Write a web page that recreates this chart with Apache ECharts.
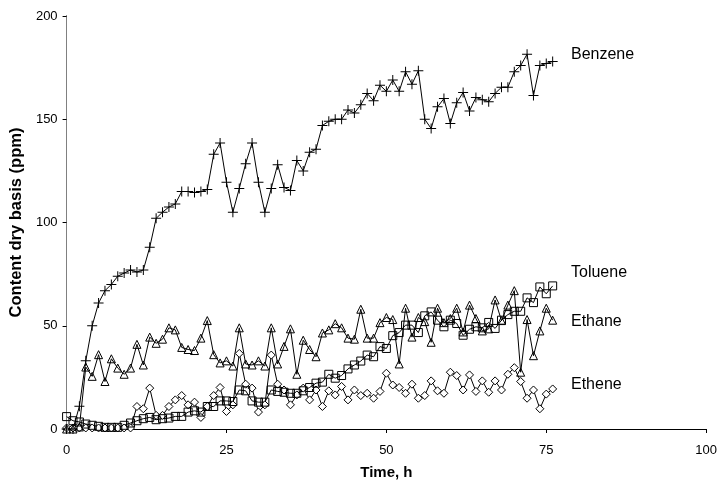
<!DOCTYPE html>
<html>
<head>
<meta charset="utf-8">
<script src="https://cdn.jsdelivr.net/npm/echarts@6/dist/echarts.min.js"></script>
<style>html,body{margin:0;padding:0;background:#fff}#c{width:720px;height:485px}</style>
</head>
<body>
<div id="c"></div>
<script>
var times = [0,1,2,3,4,5,6,7,8,9,10,11,12,13,14,15,16,17,18,19,20,21,22,23,24,25,26,27,28,29,30,31,32,33,34,35,36,37,38,39,40,41,42,43,44,45,46,47,48,49,50,51,52,53,54,55,56,57,58,59,60,61,62,63,64,65,66,67,68,69,70,71,72,73,74,75,76];
var benzene = [0,0,11,33,50,61,67,70,74,75.5,77,76,77,88,102,105,107.5,109,115,115,114.5,115,116,133,138.5,119.5,105,116.5,128.5,138.5,119.5,105,116.5,128,117,115.5,130,125,134,135.5,147,149,150,150,154.5,153,157,162.5,159,166.5,163.5,169,163.5,173,167,173.5,150,145.5,156,160,148,158,163,154,160.5,159.5,158.5,162.5,165.5,165.5,173,176,181.5,161.5,176,177,178];
var ethane = [0,0,1,30,25.5,36,23,34,29.5,26.5,29.5,41,31,44.5,41.5,43.5,49,48,39.5,38.5,38,44,52.5,36,32,33,30.5,49,31.5,31,33,30.5,49,31.5,40,48.5,26.5,43,38.5,35,46.5,48,51,49,44,43.5,58,44,44,51.5,54,53,31.5,58.5,44.5,54,52,42,58.5,51.5,53.5,58.5,47,60,53.5,47.5,48.5,62.5,52.5,60,67,27.5,53,35.5,47.5,58.5,52.7];
var toluene = [6,4,3.4,2.4,1.8,1.3,0.8,0.8,0.8,1.8,2.9,4,5,5.6,4.5,5,5.3,6.1,6.1,8.2,8.8,8.2,10.9,10.9,13.6,13.6,13.3,18.9,18.5,13.6,13,13,18.9,18.2,17.8,17.3,17.3,18.5,20.1,22.2,22.7,26.5,24.6,25.9,29.1,31,32.9,35.8,35,39.9,39,45.2,46.7,50.3,50.3,46.7,54.8,56.7,52.7,49.5,52.7,51.1,45.4,48.3,49.5,49,51.6,48.7,52.7,55.4,57,57,63.5,61.2,68.8,65.5,69.3];
var ethene = [0.5,0.5,0.5,0.5,0.5,0.5,0.5,0.5,0.5,0.5,0.5,10.9,9.8,19.8,6.6,6.6,10.9,14.1,16.2,11.7,13,5.6,10.9,16.2,20.1,8.5,11.7,36.6,21.7,19.8,8.2,11.7,35.8,21.7,18.9,11.7,16.5,19.8,14.1,18.9,10.9,18.5,16.5,20.6,14.1,18.9,16.2,17.3,14.9,18.2,27,21.3,20.1,17.3,21.7,14.9,16.2,23.3,18.5,17.3,27.5,25.9,18.9,26.2,18.2,23.3,17.8,23.3,18.9,26.5,29.7,23,14.9,18.9,9.8,16.9,19.4];
var seriesNames = ['Benzene','Toluene','Ethane','Ethene'];
var xTicks = [0,25,50,75,100];
var yTicks = [0,50,100,150,200];

function pairs(vals){ return times.map(function(t,i){ return [t, vals[i]]; }); }

var plusPath = 'path://M4.5,0H5.5V4.5H10V5.5H5.5V10H4.5V5.5H0V4.5H4.5Z';
var font = 'Liberation Sans, Arial, sans-serif';

var chart = echarts.init(document.getElementById('c'), null, {renderer:'canvas'});
function mk(name, vals, symbol, size, fill){
  return {
    name: name, type: 'line', data: pairs(vals), symbol: symbol, symbolSize: size,
    showAllSymbol: true, animation: false,
    lineStyle: {color:'#000', width:1},
    itemStyle: {color: fill, borderColor:'#000', borderWidth: symbol===plusPath?0:1},
    emphasis: {disabled:true}
  };
}
chart.setOption({
  animation: false,
  backgroundColor: '#fff',
  grid: {left:64, right:10, top:16, bottom:54, containLabel:false},
  xAxis: [{
    type:'value', min:0, max:100, interval:25,
    name:'Time, h', nameLocation:'middle', nameGap:36,
    nameTextStyle:{fontFamily:font, fontWeight:'bold', fontSize:15, color:'#000'},
    axisLine:{show:true, onZero:false, lineStyle:{color:'#000', width:1}},
    axisTick:{show:true, length:4, lineStyle:{color:'#000'}},
    axisLabel:{fontFamily:font, fontSize:13, color:'#000', margin:15,
      formatter:function(v){ return xTicks.indexOf(v)>=0 ? String(v) : ''; }},
    splitLine:{show:false}
  },{
    type:'value', min:0, max:100, position:'top',
    axisLine:{show:true, lineStyle:{color:'#000', width:1}},
    axisTick:{show:false}, axisLabel:{show:false}, splitLine:{show:false}
  }],
  yAxis: [{
    type:'value', min:0, max:200, interval:50,
    name:'Content dry basis (ppm)', nameLocation:'middle', nameGap:30,
    nameTextStyle:{fontFamily:font, fontWeight:'bold', fontSize:16.5, color:'#000'},
    axisLine:{show:true, onZero:false, lineStyle:{color:'#000', width:1}},
    axisTick:{show:true, length:4, lineStyle:{color:'#000'}},
    axisLabel:{fontFamily:font, fontSize:13, color:'#000', margin:9,
      formatter:function(v){ return yTicks.indexOf(v)>=0 ? String(v) : ''; }},
    splitLine:{show:false}
  },{
    type:'value', min:0, max:200, position:'right',
    axisLine:{show:true, lineStyle:{color:'#808080', width:1}},
    axisTick:{show:false}, axisLabel:{show:false}, splitLine:{show:false}
  }],
  series: [
    mk('Ethene', ethene, 'diamond', 8, '#fff'),
    mk('Toluene', toluene, 'rect', 8, 'rgba(255,255,255,0)'),
    mk('Ethane', ethane, 'triangle', 8, 'rgba(255,255,255,0)'),
    mk('Benzene', benzene, plusPath, 10, '#000')
  ],
  graphic: [
    {type:'text', left:571, top:47, style:{text:seriesNames[0], font:'16px '+font, fill:'#000'}},
    {type:'text', left:571, top:265, style:{text:seriesNames[1], font:'16px '+font, fill:'#000'}},
    {type:'text', left:571, top:314, style:{text:seriesNames[2], font:'16px '+font, fill:'#000'}},
    {type:'text', left:571, top:377, style:{text:seriesNames[3], font:'16px '+font, fill:'#000'}}
  ]
});
</script>
</body>
</html>
